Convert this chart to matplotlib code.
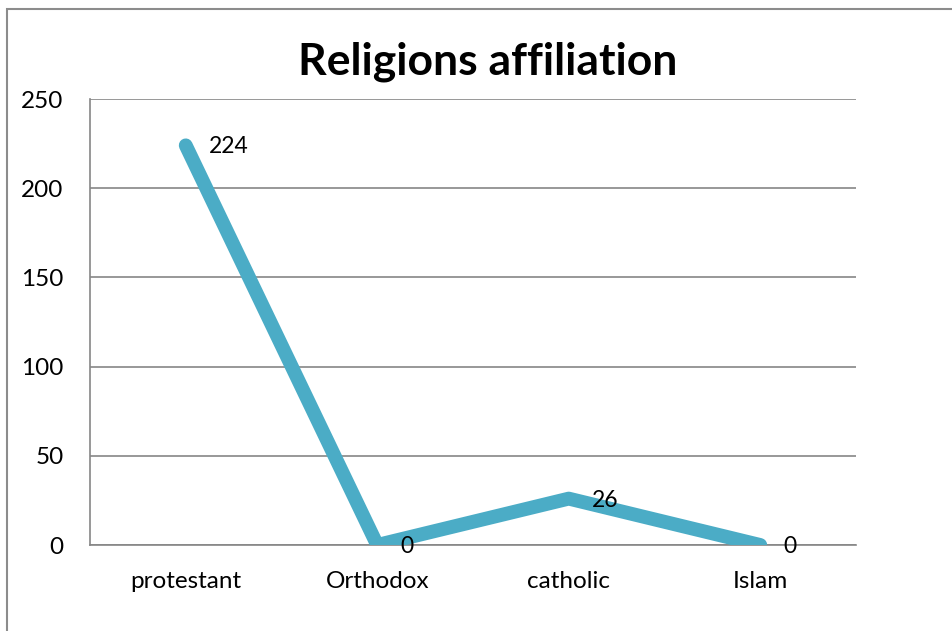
import matplotlib.pyplot as plt
from matplotlib.patches import Rectangle

religions = ["protestant", "Orthodox", "catholic", "Islam"]
counts = [224, 0, 26, 0]
yticks = [0, 50, 100, 150, 200, 250]

plt.rcParams['font.family'] = ['Lato', 'DejaVu Sans']

W, H = 953, 631
fig = plt.figure(figsize=(W / 100, H / 100), dpi=100)

# outer chart border (runs off the right and bottom of the picture)
fig.patches.append(Rectangle((7 / W, -0.1), 1.2, 1 - 9 / H + 0.1, transform=fig.transFigure,
                             fill=False, edgecolor="#8c8c8c", linewidth=1.5))

ax = fig.add_axes([90 / W, 1 - 545 / H, (856 - 90) / W, (545 - 99) / H])
x = list(range(len(religions)))
ax.plot(x, counts, color="#4BACC6", linewidth=10, solid_capstyle="round",
        solid_joinstyle="round", zorder=3)

for xi, v in zip(x, counts):
    ax.annotate(str(v), (xi, v), xytext=(17, -1), textcoords="offset points",
                ha="left", va="center", fontsize=16.5, color="black", zorder=4)

ax.set_xlim(-0.5, len(religions) - 0.5)
ax.set_ylim(0, 250)
ax.set_yticks(yticks)
ax.set_xticks(x)
ax.set_xticklabels(religions)
ax.tick_params(axis="both", length=0, labelsize=17.5)
ax.tick_params(axis="y", pad=19)
ax.tick_params(axis="x", pad=19)
ax.grid(axis="y", color="#868686", linewidth=1.2)
ax.set_axisbelow(True)
for s in ["top", "right"]:
    ax.spines[s].set_visible(False)
ax.spines["left"].set_color("#868686")
ax.spines["bottom"].set_color("#868686")
ax.spines["left"].set_linewidth(1.2)
ax.spines["bottom"].set_linewidth(1.2)

fig.text(488 / W, 1 - 62 / H, "Religions affiliation", ha="center", va="center",
         fontsize=32, fontweight="bold")

fig.savefig("out.png", dpi=100)
